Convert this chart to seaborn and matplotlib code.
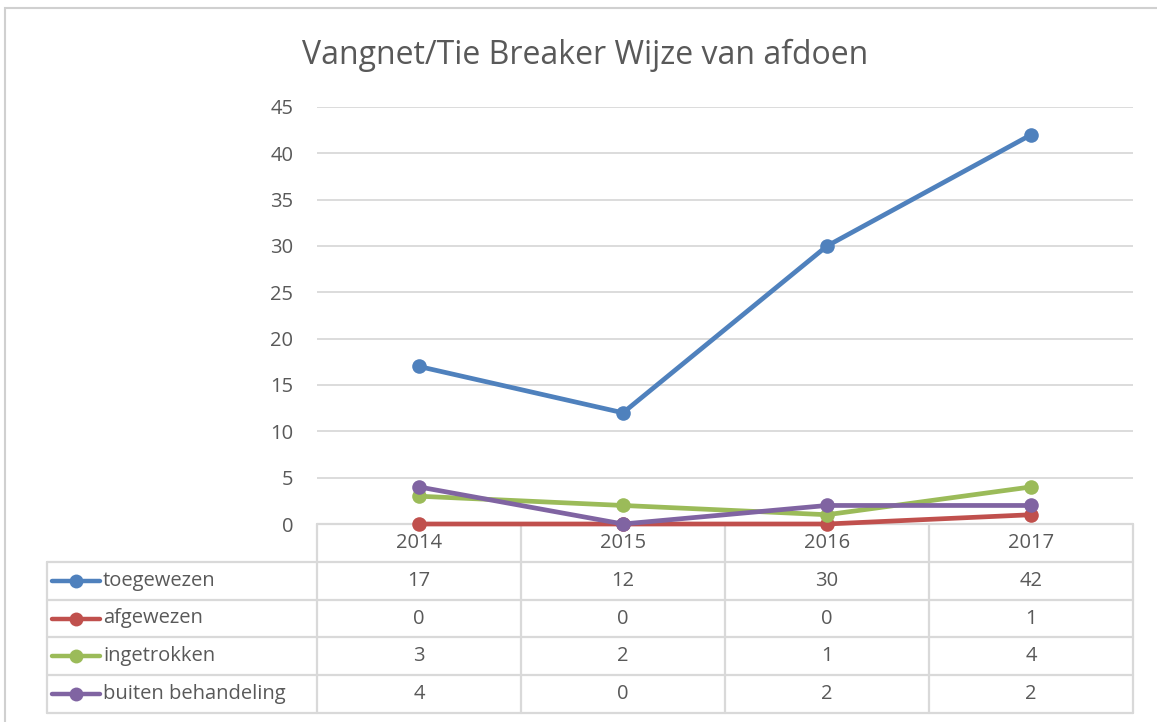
import matplotlib
matplotlib.use("Agg")
import matplotlib.pyplot as plt
import seaborn as sns
import pandas as pd
from matplotlib.lines import Line2D
from matplotlib.patches import Rectangle

years = ["2014", "2015", "2016", "2017"]
series_names = ["toegewezen", "afgewezen", "ingetrokken", "buiten behandeling"]
toegewezen = [17, 12, 30, 42]
afgewezen = [0, 0, 0, 1]
ingetrokken = [3, 2, 1, 4]
buiten_behandeling = [4, 0, 2, 2]
yticks = [0, 5, 10, 15, 20, 25, 30, 35, 40, 45]
title = "Vangnet/Tie Breaker Wijze van afdoen"

colors = ["#4F81BD", "#C0504D", "#9BBB59", "#8064A2"]
values = [toegewezen, afgewezen, ingetrokken, buiten_behandeling]

rows = []
for name, vals in zip(series_names, values):
    for i, v in enumerate(vals):
        rows.append({"pos": i, "year": years[i], "serie": name, "value": v})
df = pd.DataFrame(rows)

sns.set_theme(style="white")
plt.rcParams["font.family"] = ["Open Sans", "DejaVu Sans"]
txt = "#595959"
grid = "#D9D9D9"
fs = 14.5

W, H = 1157, 722
fig = plt.figure(figsize=(W / 100, H / 100), dpi=100)
fig.patch.set_facecolor("white")

# outer chart border
fig.add_artist(Rectangle((5 / W, -0.01), 1.1, 1 - 8 / H + 0.01, transform=fig.transFigure,
                         fill=False, edgecolor="#D0D0D0", linewidth=1.5))

def px(l, t, r, b):
    return [l / W, 1 - b / H, (r - l) / W, (b - t) / H]

# data table (drawn below the line chart)
label_w = (317 - 47) / 204.0
tax = fig.add_axes(px(47, 524, 1133, 713))
tax.set_zorder(1)
tax.set_xlim(-0.5 - label_w, 3.5)
tax.set_ylim(5, 0)
tax.axis("off")
lw = 1.6
lx = -0.5 - label_w
tax.plot([-0.5, 3.5], [0, 0], color=grid, lw=lw, clip_on=False)
for i in range(5):
    tax.plot([i - 0.5, i - 0.5], [0, 5], color=grid, lw=lw, clip_on=False)
for r in range(1, 6):
    tax.plot([lx, 3.5], [r, r], color=grid, lw=lw, clip_on=False)
tax.plot([lx, lx], [1, 5], color=grid, lw=lw, clip_on=False)
for i, y in enumerate(years):
    tax.text(i, 0.5, y, ha="center", va="center", color=txt, fontsize=fs)
for r, (name, vals, c) in enumerate(zip(series_names, values, colors), start=1):
    x0 = lx + 5 / 204.0
    x1 = lx + 53 / 204.0
    tax.add_line(Line2D([x0, x1], [r + 0.5, r + 0.5], color=c, lw=3.2,
                        solid_capstyle="round"))
    tax.plot([(x0 + x1) / 2], [r + 0.5], "o", color=c, markersize=10, markeredgewidth=0)
    tax.text(lx + 56 / 204.0, r + 0.5, name, ha="left", va="center", color=txt, fontsize=fs)
    for i, v in enumerate(vals):
        tax.text(i, r + 0.5, str(v), ha="center", va="center", color=txt, fontsize=fs)

ax = fig.add_axes(px(317, 107, 1133, 524))
ax.set_zorder(2)
ax.patch.set_alpha(0)
sns.lineplot(data=df, x="pos", y="value", hue="serie", hue_order=series_names,
             palette=colors, marker="o", markersize=10.5, linewidth=3.4,
             markeredgewidth=0, legend=False, ax=ax, zorder=3)
ax.set_xlim(-0.5, 3.5)
ax.set_ylim(0, 45)
ax.set_yticks(yticks)
ax.set_yticklabels([str(t) for t in yticks], color=txt, fontsize=fs)
ax.set_xticks([])
ax.set_xlabel("")
ax.set_ylabel("")
ax.tick_params(axis="y", length=0, pad=17)
ax.grid(axis="y", color=grid, linewidth=1.3)
ax.set_axisbelow(True)
for s in ax.spines.values():
    s.set_visible(False)
for line in ax.lines:
    line.set_clip_on(False)

fig.text(585 / W, 1 - 55 / H, title, ha="center", va="center", fontsize=23, color=txt)

fig.savefig("out.png", dpi=100, facecolor="white")
